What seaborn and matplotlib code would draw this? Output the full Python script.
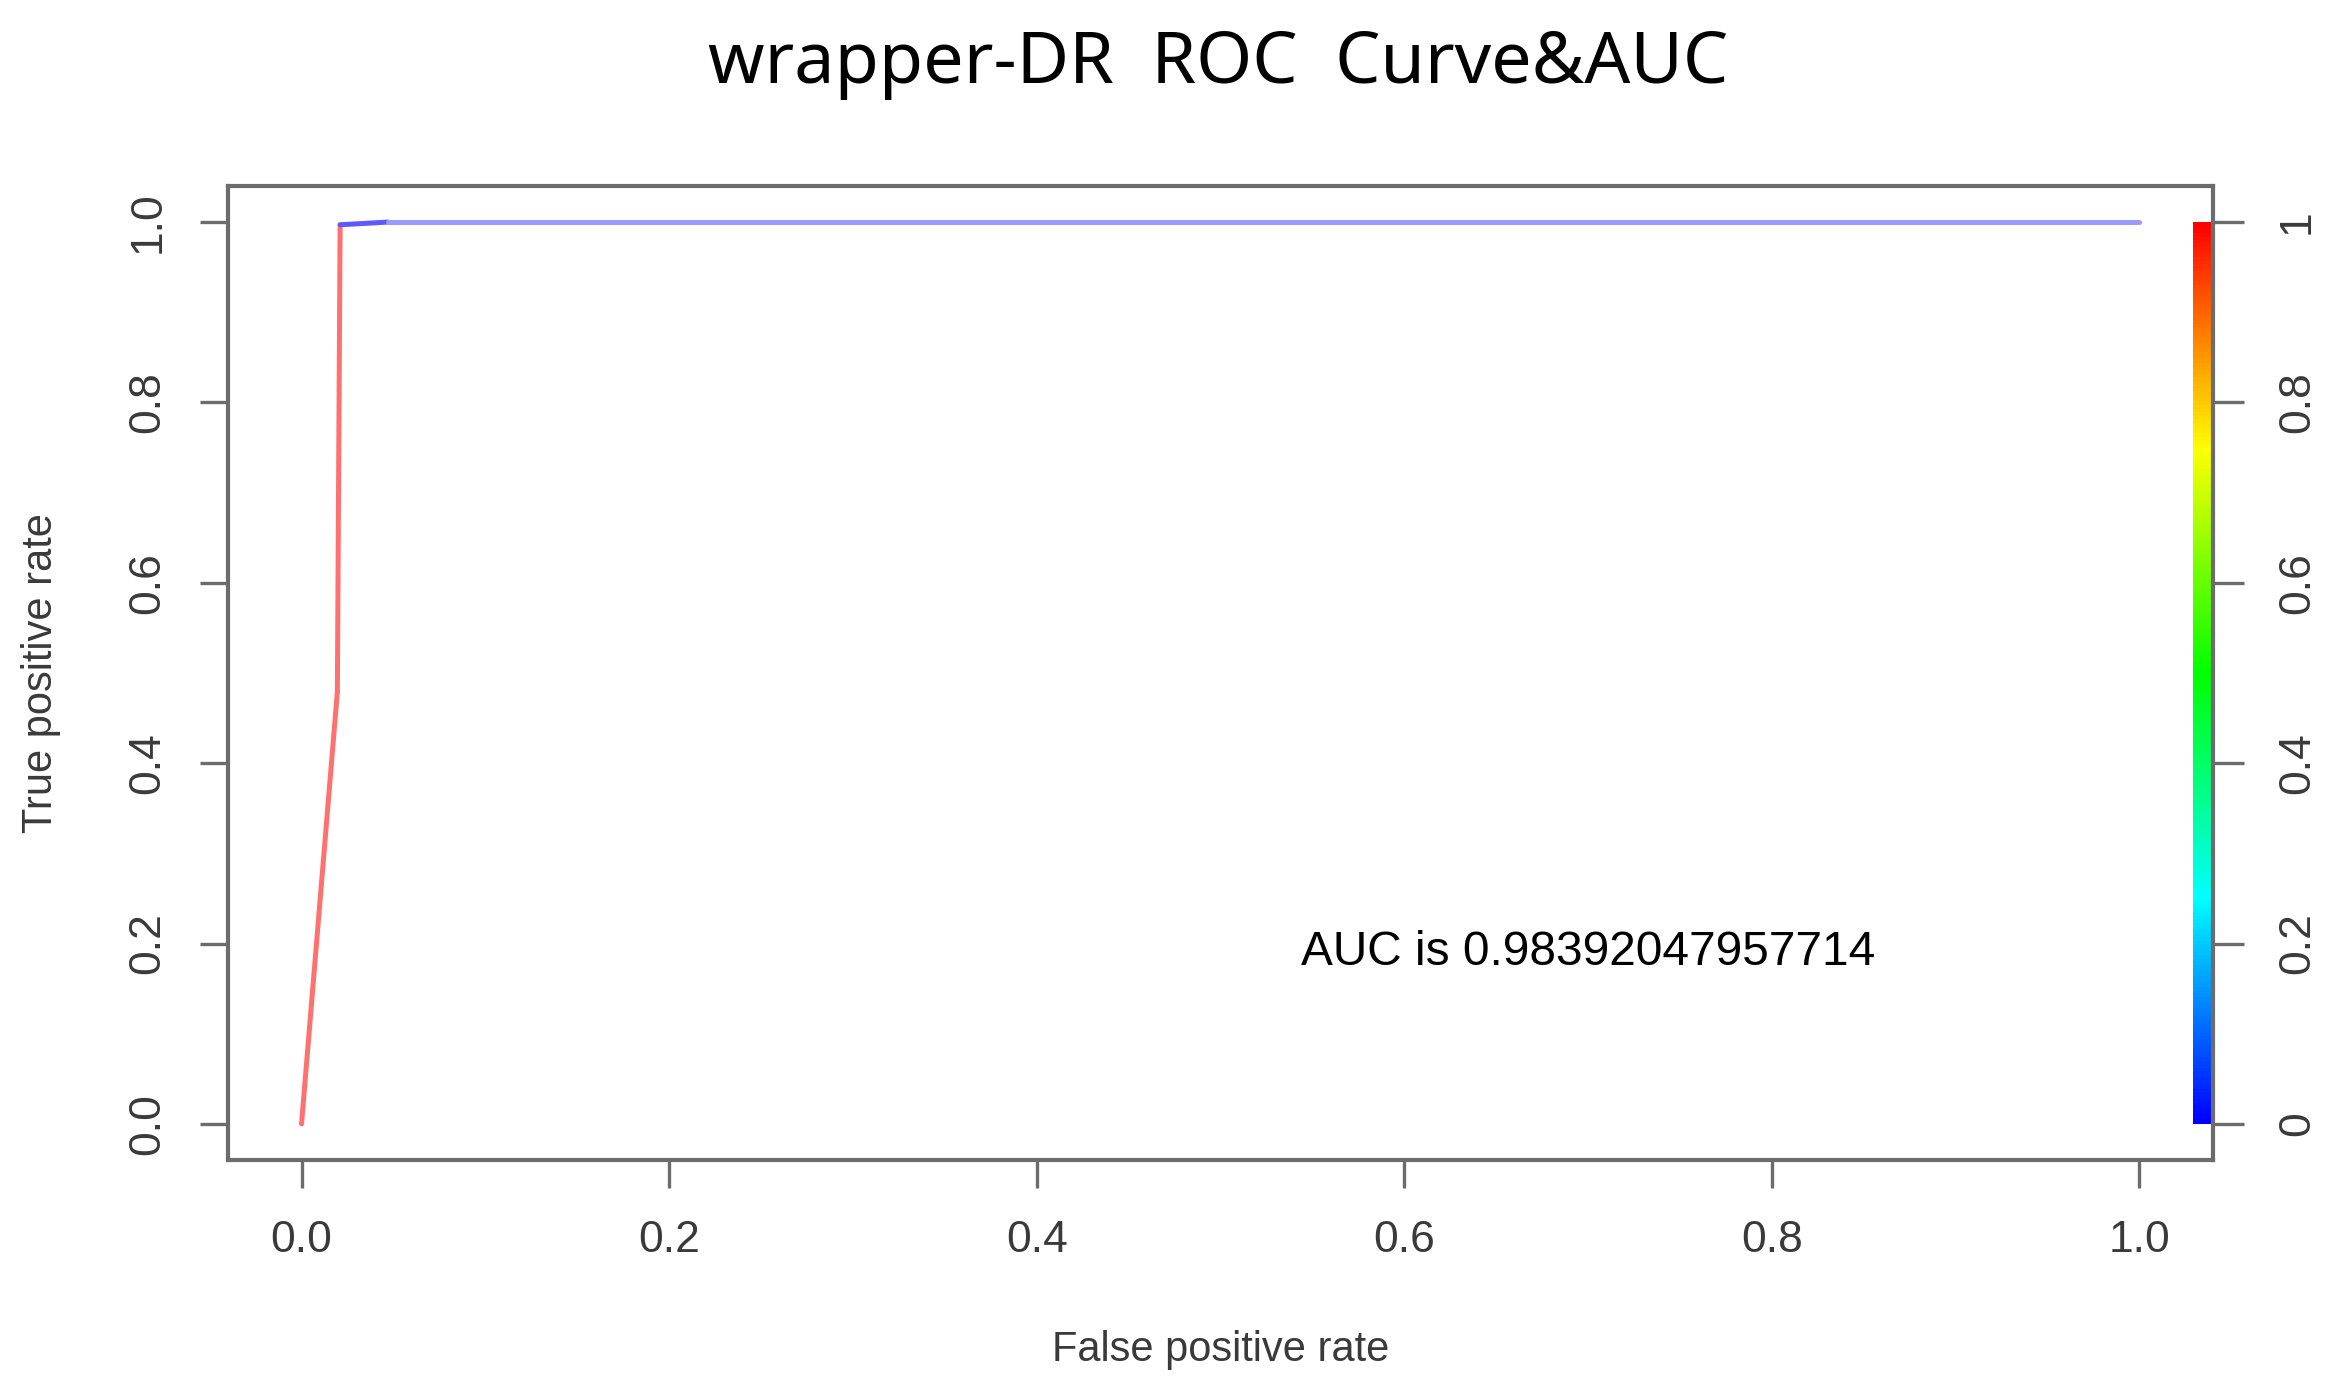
import numpy as np
import matplotlib
matplotlib.use("Agg")
import matplotlib.pyplot as plt
import seaborn as sns
from matplotlib.colors import ListedColormap, hsv_to_rgb

# ---- data ----
fpr = [0.0, 0.0195, 0.021, 0.047, 1.0]
tpr = [0.0, 0.479, 0.997, 1.0, 1.0]
seg_colors = ["#ff7070", "#ff7070", "#5a5aff", "#9b9bff"]
x_ticks = [0.0, 0.2, 0.4, 0.6, 0.8, 1.0]
x_tick_labels = ["0.0", "0.2", "0.4", "0.6", "0.8", "1.0"]
y_ticks = [0.0, 0.2, 0.4, 0.6, 0.8, 1.0]
y_tick_labels = ["0.0", "0.2", "0.4", "0.6", "0.8", "1.0"]
cbar_ticks = [0.0, 0.2, 0.4, 0.6, 0.8, 1.0]
cbar_tick_labels = ["0", "0.2", "0.4", "0.6", "0.8", "1"]
auc_value = "0.98392047957714"
title_text = "wrapper-DR  ROC  Curve&AUC"

sns.set_style("white")
plt.rcParams["font.family"] = ["Liberation Sans", "DejaVu Sans"]

spine_c = "#6c6c6c"
text_c = "#3a3a3a"

fig = plt.figure(figsize=(11.74, 6.99), dpi=200)
ax = fig.add_axes([228 / 2348, 1 - 1160 / 1398, (2213 - 228) / 2348, (1160 - 186) / 1398])

for i in range(len(fpr) - 1):
    sns.lineplot(x=fpr[i:i + 2], y=tpr[i:i + 2], color=seg_colors[i], lw=1.8,
                 sort=False, ax=ax, zorder=3)

# rainbow colour bar (cutoff scale) inside the plot
hues = np.linspace(2 / 3, 0, 256)
rainbow = ListedColormap(hsv_to_rgb(np.column_stack([hues, np.ones(256), np.ones(256)])))
grad = np.linspace(0, 1, 256).reshape(-1, 1)
ax.imshow(grad, extent=[1.029, 1.04, 0, 1], origin="lower", aspect="auto",
          cmap=rainbow, zorder=2)

ax.set_xlim(-0.04, 1.04)
ax.set_ylim(-0.04, 1.04)
ax.set_xticks(x_ticks)
ax.set_xticklabels(x_tick_labels)
ax.set_yticks(y_ticks)
ax.set_yticklabels(y_tick_labels, rotation=90, va="center")

for s in ax.spines.values():
    s.set_color(spine_c)
    s.set_linewidth(1.5)
    s.set_visible(True)

ax.tick_params(axis="both", which="major", direction="out", length=10, width=1.2,
               color=spine_c, labelcolor=text_c, labelsize=16, pad=11.5,
               bottom=True, left=True)

ax2 = ax.twinx()
ax2.set_ylim(-0.04, 1.04)
ax2.set_yticks(cbar_ticks)
ax2.set_yticklabels(cbar_tick_labels, rotation=90, va="center")
ax2.tick_params(axis="y", direction="out", length=11, width=1.2, color=spine_c,
                labelcolor=text_c, labelsize=16, pad=12, right=True)
for s in ax2.spines.values():
    s.set_visible(False)

ax.set_xlabel("False positive rate", fontsize=15, color=text_c, labelpad=25)
ax.set_ylabel("True positive rate", fontsize=15, color=text_c, labelpad=24)

ax.text(0.7, 0.19, "AUC is " + auc_value, ha="center", va="center",
        fontsize=17.2, color="black", zorder=4)

fig.text(0.519, 1 - 64 / 1398, title_text, ha="center", va="center",
         fontsize=25.9, color="black", family=["Noto Sans", "DejaVu Sans"])

fig.savefig("out.png", dpi=200, facecolor="white")
